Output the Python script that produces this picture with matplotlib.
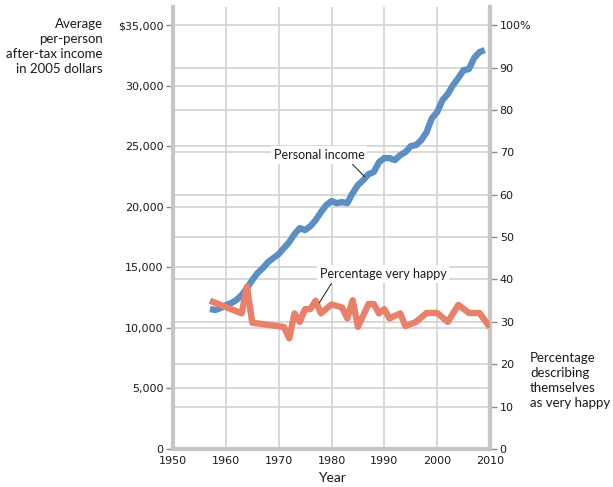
import matplotlib
matplotlib.use("Agg")
import matplotlib.pyplot as plt
from matplotlib.ticker import FixedLocator, FuncFormatter
import numpy as np

# ---- data ----
income_years = [1957, 1958, 1959, 1960, 1961, 1962, 1963, 1964, 1965, 1966,
                1967, 1968, 1969, 1970, 1971, 1972, 1973, 1974, 1975, 1976,
                1977, 1978, 1979, 1980, 1981, 1982, 1983, 1984, 1985, 1986,
                1987, 1988, 1989, 1990, 1991, 1992, 1993, 1994, 1995, 1996,
                1997, 1998, 1999, 2000, 2001, 2002, 2003, 2004, 2005, 2006,
                2007, 2008, 2009]
income = [11560, 11480, 11640, 11890, 12050, 12300, 12710, 13290, 13950, 14530,
          14940, 15440, 15770, 16100, 16590, 17090, 17750, 18240, 18080, 18400,
          18900, 19560, 20140, 20470, 20300, 20390, 20300, 21130, 21790, 22200,
          22700, 22870, 23690, 24020, 24020, 23860, 24270, 24520, 25010, 25100,
          25510, 26170, 27320, 27820, 28810, 29310, 30050, 30630, 31290, 31370,
          32280, 32770, 32940]

happy_years = [1957, 1963, 1964, 1965, 1971, 1972, 1973, 1974, 1975, 1976,
               1977, 1978, 1980, 1982, 1983, 1984, 1985, 1987, 1988, 1989,
               1990, 1991, 1993, 1994, 1996, 1998, 2000, 2002, 2004, 2006,
               2008, 2010]
happy_pct = [35.0, 32.0, 38.3, 29.8, 28.8, 26.1, 32.0, 30.0, 33.0, 33.0,
             35.0, 32.0, 34.1, 33.4, 30.8, 35.1, 28.8, 34.2, 34.2, 32.0,
             33.0, 30.8, 32.0, 29.0, 30.0, 32.1, 32.1, 30.0, 34.0, 32.1,
             32.1, 28.7]

x_ticks = [1950, 1960, 1970, 1980, 1990, 2000, 2010]
income_ticks = [0, 5000, 10000, 15000, 20000, 25000, 30000, 35000]
pct_ticks = [0, 10, 20, 30, 40, 50, 60, 70, 80, 90, 100]

# ---- style ----
BLUE = "#5b8fc3"
RED = "#e8806a"
GRID = "#d2d2d2"
SPINE = "#c6c6c6"
TXT = "#1a1a1a"
ANN_FONT = ["Lato", "DejaVu Sans"]

INC_MAX = 36500.0
PCT_MAX = INC_MAX * 100 / 35000.0

fig = plt.figure(figsize=(6.13, 4.87), dpi=100)
ax = fig.add_axes([173/613, 1 - 449/487, (490-173)/613, (449-7)/487])
ax2 = ax.twinx()

ax.set_xlim(1950, 2010)
ax.set_ylim(0, INC_MAX)
ax2.set_ylim(0, PCT_MAX)

# gridlines (drawn in ax, including those of the percentage axis)
ax.set_xticks(x_ticks)
ax.set_yticks(income_ticks)
ax.yaxis.set_minor_locator(FixedLocator([p * 35000 / 100 for p in pct_ticks]))
ax.grid(True, which="both", axis="y", color=GRID, linewidth=1.2)
ax.grid(True, which="major", axis="x", color=GRID, linewidth=1.2)
ax.set_axisbelow(True)
ax.tick_params(axis="y", which="minor", length=0)

ax.plot(income_years, income, color=BLUE, linewidth=4.6, solid_capstyle="butt",
        solid_joinstyle="round", zorder=3)
ax2.plot(happy_years, happy_pct, color=RED, linewidth=4.6, solid_capstyle="butt",
         solid_joinstyle="round", zorder=3)

# ticks / labels
ax.yaxis.set_major_formatter(FuncFormatter(
    lambda v, p: "$35,000" if v == 35000 else f"{int(v):,}"))
ax.tick_params(axis="y", which="major", direction="out", length=5, width=1,
               color="#888888", labelsize=8, labelcolor=TXT, pad=2)
ax.tick_params(axis="x", length=0, labelsize=8, labelcolor=TXT, pad=5)
ax2.set_yticks(pct_ticks)
ax2.yaxis.set_major_formatter(FuncFormatter(
    lambda v, p: "100%" if v == 100 else f"{int(v)}"))
ax2.tick_params(axis="y", direction="out", length=5, width=1, color="#888888",
                labelsize=8, labelcolor=TXT, pad=2)

for a in (ax, ax2):
    a.spines["top"].set_visible(False)
    for s in ("left", "right", "bottom"):
        a.spines[s].set_color(SPINE)
        a.spines[s].set_linewidth(3)
ax2.spines["left"].set_visible(False)
ax2.spines["bottom"].set_visible(False)

ax.set_xlabel("Year", fontsize=10, family=ANN_FONT, color=TXT, labelpad=4)

# axis titles
fig.text(103/613, 1 - 18/487, "Average\nper-person\nafter-tax income\nin 2005 dollars",
         ha="right", va="top", fontsize=9.5, family=ANN_FONT, color=TXT,
         linespacing=1.3)
fig.text(530/613, 1 - 352/487, "Percentage\ndescribing\nthemselves\nas very happy",
         ha="left", va="top", fontsize=9.5, family=ANN_FONT, color=TXT,
         linespacing=1.3)

# annotations
ax.text(1977.7, 24270, "Personal income", ha="center", va="center", fontsize=9,
        family=ANN_FONT, color=TXT, zorder=4,
        bbox=dict(facecolor="white", edgecolor="none", pad=2))
ax.annotate("", xy=(1986.3, 22480), xytext=(1983.8, 23590),
            arrowprops=dict(arrowstyle="-", color=TXT, lw=0.7,
                            shrinkA=0, shrinkB=0))
ax2.text(1989.8, 41.3, "Percentage very happy", ha="center", va="center",
         fontsize=9, family=ANN_FONT, color=TXT, zorder=4,
         bbox=dict(facecolor="white", edgecolor="none", pad=2))
ax2.annotate("", xy=(1977.7, 34.5), xytext=(1980.0, 39.1),
             arrowprops=dict(arrowstyle="-", color=TXT, lw=0.7,
                             shrinkA=0, shrinkB=0))

fig.savefig("out.png", dpi=100)
